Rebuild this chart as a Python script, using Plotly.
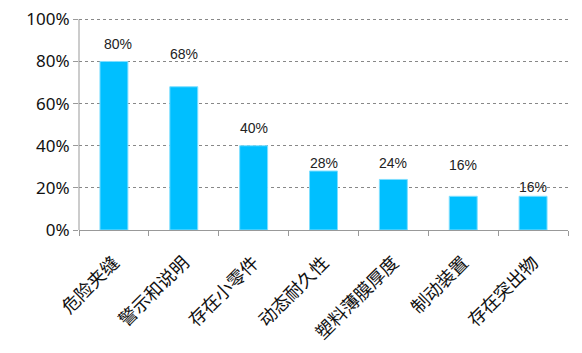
import plotly.graph_objects as go

categories = ["危险夹缝", "警示和说明", "存在小零件", "动态耐久性", "塑料薄膜厚度", "制动装置", "存在突出物"]
values = [80, 68, 40, 28, 24, 16, 16]
y_ticks = [0, 20, 40, 60, 80, 100]
y_tick_labels = ["0%", "20%", "40%", "60%", "80%", "100%"]

# label placement offsets (style), in data units above bar top
label_offsets = [8.5, 15.5, 8.5, 4, 8, 15, 4.5]
label_xshift = [4, 0, 0, 0, 0, 0, 0]

fig = go.Figure()
fig.add_trace(go.Bar(
    x=categories, y=values,
    marker=dict(color="#00BFFF", line=dict(color="#7FDFFF", width=1)),
    width=0.4,
))

for c, v, off, xs in zip(categories, values, label_offsets, label_xshift):
    fig.add_annotation(x=c, y=v + off, text=f"{v}%", showarrow=False,
                       xshift=xs, yanchor="middle",
                       font=dict(family="Liberation Sans", size=14, color="#222"))

# y axis line only up to the top tick
fig.add_shape(type="line", xref="paper", yref="y", x0=0, x1=0,
              y0=y_ticks[0], y1=y_ticks[-1], line=dict(color="#999", width=1))

fig.update_layout(
    width=582, height=353,
    margin=dict(l=79, r=14, t=13, b=123),
    plot_bgcolor="white", paper_bgcolor="white",
    showlegend=False,
    font=dict(family="Noto Sans CJK SC", color="#111"),
)
fig.update_xaxes(
    tickangle=-45, tickfont=dict(family="Noto Sans CJK SC", size=18, color="#111"),
    showline=True, linecolor="#999", linewidth=1,
    ticks="outside", tickson="boundaries", ticklen=5, tickcolor="#999",
    ticklabelstandoff=14, automargin=False,
    showgrid=False,
)
fig.update_yaxes(
    range=[0, 103], tickvals=y_ticks, ticktext=y_tick_labels,
    tickfont=dict(family="Noto Sans", size=17, color="#111"),
    showline=False,
    ticks="outside", ticklen=5, tickcolor="#999", automargin=False,
    showgrid=True, gridcolor="#888", griddash="3px,3px", gridwidth=1,
    zeroline=False,
)

fig.write_html("out.html")
